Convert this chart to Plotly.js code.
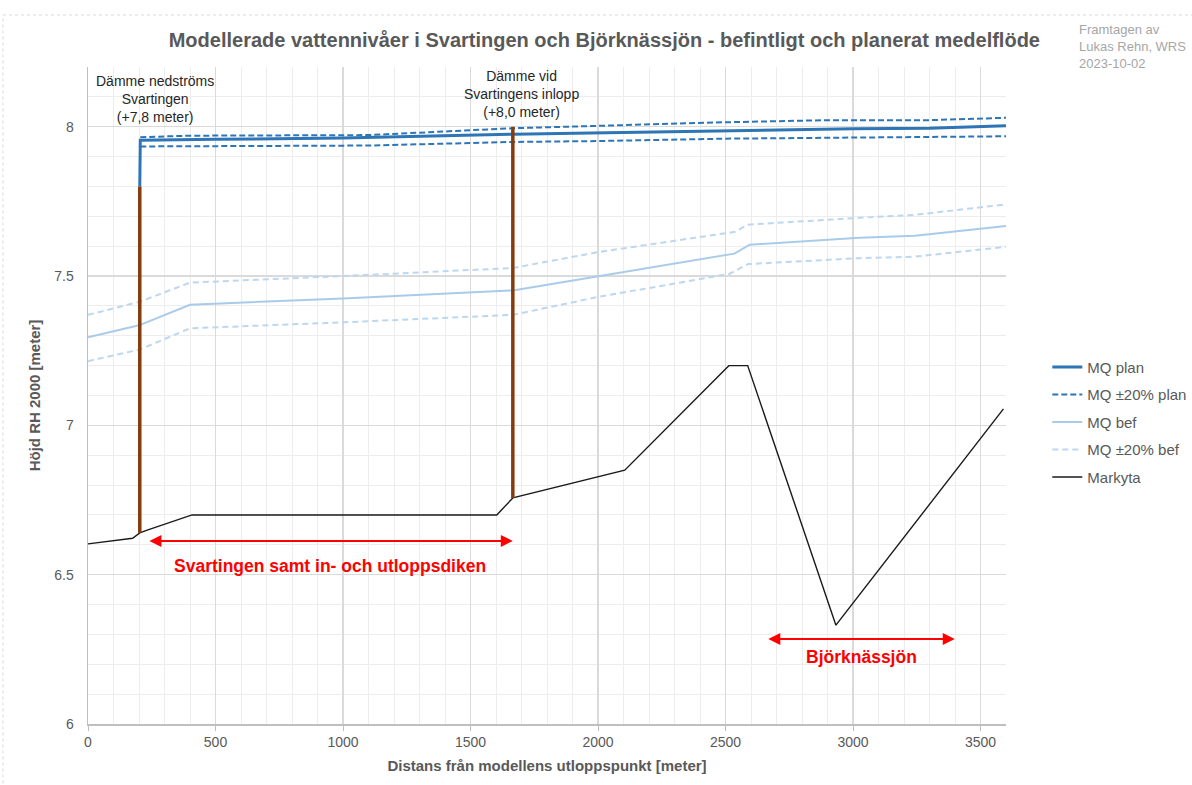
<!DOCTYPE html>
<html>
<head>
<meta charset="utf-8">
<script src="https://cdn.plot.ly/plotly-3.0.1.min.js"></script>
<style>html,body{margin:0;padding:0;background:#fff;}#chart{width:1192px;height:785px;}</style>
</head>
<body>
<div id="chart"></div>
<script>
// ---- Data ----
const markytaX = [0, 175, 203, 235, 408, 1603, 1666, 2105, 2513, 2587, 2933, 3590];
const markytaY = [6.603, 6.622, 6.64, 6.65, 6.70, 6.70, 6.757, 6.85, 7.20, 7.20, 6.331, 7.055];

const planX = [203, 205, 500, 1000, 1666, 2000, 2500, 3000, 3300, 3600];
const planY = [7.80, 7.955, 7.958, 7.962, 7.975, 7.980, 7.988, 7.993, 7.995, 8.003];

const planHiX = [205, 400, 1100, 1666, 2000, 2500, 2900, 3300, 3600];
const planHiY = [7.965, 7.970, 7.972, 7.995, 8.003, 8.015, 8.022, 8.022, 8.030];

const planLoX = [205, 1100, 1666, 2000, 2500, 3000, 3600];
const planLoY = [7.934, 7.937, 7.949, 7.952, 7.960, 7.963, 7.968];

const befX = [0, 200, 400, 1000, 1666, 2000, 2535, 2595, 3025, 3243, 3600];
const befY = [7.295, 7.335, 7.404, 7.425, 7.452, 7.500, 7.575, 7.605, 7.628, 7.635, 7.668];

const befHiX = [0, 203, 400, 1000, 1666, 2000, 2537, 2588, 3025, 3243, 3600];
const befHiY = [7.370, 7.414, 7.478, 7.500, 7.527, 7.580, 7.648, 7.672, 7.695, 7.705, 7.740];

const befLoX = [0, 203, 400, 1000, 1666, 2000, 2515, 2588, 3025, 3243, 3600];
const befLoY = [7.215, 7.254, 7.325, 7.345, 7.370, 7.430, 7.507, 7.540, 7.560, 7.565, 7.598];

// dams: x and [bottom, top]
const dam1 = {x: [203, 203], y: [6.64, 7.80]};
const dam2 = {x: [1666, 1666], y: [6.757, 8.00]};

// annotation anchors
const damLabels = [
  {x: 262, y: 8.094, text: "Dämme nedströms<br>Svartingen<br>(+7,8 meter)"},
  {x: 1700, y: 8.108, text: "Dämme vid<br>Svartingens inlopp<br>(+8,0 meter)"}
];
const spanArrows = [
  {x0: 235, x1: 1666, y: 6.613, label: "Svartingen samt in- och utloppsdiken", lx: 948, ly: 6.529},
  {x0: 2662, x1: 3399, y: 6.285, label: "Björknässjön", lx: 3035, ly: 6.224}
];

const FONT = "Liberation Sans, Arial, sans-serif";
const C_PLAN = "#2e75b6";
const C_BEF = "#a9cbea";
const C_BEF_D = "#bdd7ee";
const C_DAM = "#843c0c";

const traces = [
  {x: markytaX, y: markytaY, mode: "lines", name: "Markyta", legendrank: 5,
   line: {color: "#1a1a1a", width: 1.4}},
  {x: befHiX, y: befHiY, mode: "lines", name: "MQ ±20% bef", legendgroup: "bd", legendrank: 4,
   line: {color: C_BEF_D, width: 2, dash: "6px,4px"}},
  {x: befLoX, y: befLoY, mode: "lines", name: "MQ ±20% bef", legendgroup: "bd", showlegend: false,
   line: {color: C_BEF_D, width: 2, dash: "6px,4px"}},
  {x: befX, y: befY, mode: "lines", name: "MQ bef", legendgroup: "b", legendrank: 3,
   line: {color: C_BEF, width: 2}},
  {x: planHiX, y: planHiY, mode: "lines", name: "MQ ±20% plan", legendgroup: "pd", legendrank: 2,
   line: {color: C_PLAN, width: 2, dash: "6px,3px"}},
  {x: planLoX, y: planLoY, mode: "lines", name: "MQ ±20% plan", legendgroup: "pd", showlegend: false,
   line: {color: C_PLAN, width: 2, dash: "6px,3px"}},
  {x: planX, y: planY, mode: "lines", name: "MQ plan", legendgroup: "p", legendrank: 1,
   line: {color: C_PLAN, width: 3}},
  {x: dam1.x, y: dam1.y, mode: "lines", showlegend: false, hoverinfo: "skip",
   line: {color: C_DAM, width: 3.5}},
  {x: dam2.x, y: dam2.y, mode: "lines", showlegend: false, hoverinfo: "skip",
   line: {color: C_DAM, width: 3.5}}
];

const annotations = [];
damLabels.forEach(d => annotations.push({
  x: d.x, y: d.y, xref: "x", yref: "y", text: d.text, showarrow: false,
  xanchor: "center", yanchor: "middle", align: "center",
  font: {family: FONT, size: 14, color: "#262626"}
}));
spanArrows.forEach(a => {
  annotations.push({
    x: a.x1, y: a.y, ax: a.x0, ay: a.y, xref: "x", yref: "y", axref: "x", ayref: "y",
    text: "", showarrow: true, arrowhead: 2, startarrowhead: 2, arrowside: "end+start",
    arrowsize: 1.2, startarrowsize: 1.2, arrowwidth: 2, arrowcolor: "#ff0000"
  });
  annotations.push({
    x: a.lx, y: a.ly, xref: "x", yref: "y", text: a.label, showarrow: false,
    xanchor: "center", yanchor: "middle",
    font: {family: FONT, size: 17.5, color: "#ff0000", weight: "bold"}
  });
});
annotations.push({
  x: 1.0773, y: 1.071, xref: "paper", yref: "paper", xanchor: "left", yanchor: "top", align: "left",
  text: "Framtagen av<br>Lukas Rehn, WRS<br>2023-10-02", showarrow: false,
  font: {family: FONT, size: 13, color: "#a6a6a6"}
});

const layout = {
  width: 1192, height: 785,
  margin: {l: 88, r: 186, t: 67, b: 61, autoexpand: false},
  paper_bgcolor: "#fff", plot_bgcolor: "#fff",
  font: {family: FONT, color: "#595959"},
  title: {
    text: "Modellerade vattennivåer i Svartingen och Björknässjön - befintligt och planerat medelflöde",
    x: 0.507, xref: "container", xanchor: "center", y: 0.949, yref: "container", yanchor: "middle",
    font: {family: FONT, size: 20, color: "#595959", weight: "bold"}
  },
  xaxis: {
    range: [0, 3600], dtick: 500, tick0: 0,
    showgrid: true, gridcolor: "#dadada", gridwidth: 1.5,
    minor: {dtick: 100, showgrid: true, gridcolor: "#ededed", gridwidth: 1},
    showline: true, linecolor: "#bfbfbf", linewidth: 1.5,
    ticks: "outside", ticklen: 5, tickcolor: "#bfbfbf",
    zeroline: false,
    tickfont: {family: FONT, size: 14, color: "#595959"},
    title: {text: "Distans från modellens utloppspunkt [meter]", standoff: 11,
            font: {family: FONT, size: 15, color: "#595959", weight: "bold"}}
  },
  yaxis: {
    range: [6, 8.2], dtick: 0.5, tick0: 6,
    showgrid: true, gridcolor: "#dadada", gridwidth: 1.5,
    minor: {dtick: 0.1, showgrid: true, gridcolor: "#ededed", gridwidth: 1},
    showline: true, linecolor: "#bfbfbf", linewidth: 1.5,
    ticks: "", zeroline: false, ticklabelstandoff: 10,
    tickfont: {family: FONT, size: 14, color: "#595959"},
    title: {text: "Höjd RH 2000 [meter]", standoff: 10,
            font: {family: FONT, size: 15, color: "#595959", weight: "bold"}}
  },
  legend: {
    x: 1.045, xanchor: "left", y: 0.568, yanchor: "top",
    font: {family: FONT, size: 15, color: "#595959"},
    traceorder: "grouped", tracegroupgap: 5,
    bgcolor: "rgba(0,0,0,0)"
  },
  annotations: annotations,
  shapes: [
    {type: "line", xref: "paper", yref: "paper", x0: -0.0926, x1: 1.25, y0: 1.0792, y1: 1.0792,
     line: {color: "#d9d9d9", width: 1, dash: "dot"}},
    {type: "line", xref: "paper", yref: "paper", x0: -0.0926, x1: -0.0926, y0: -0.2, y1: 1.0792,
     line: {color: "#d9d9d9", width: 1, dash: "dot"}}
  ],
  showlegend: true
};

Plotly.newPlot("chart", traces, layout, {displayModeBar: false, staticPlot: true});
</script>
</body>
</html>
